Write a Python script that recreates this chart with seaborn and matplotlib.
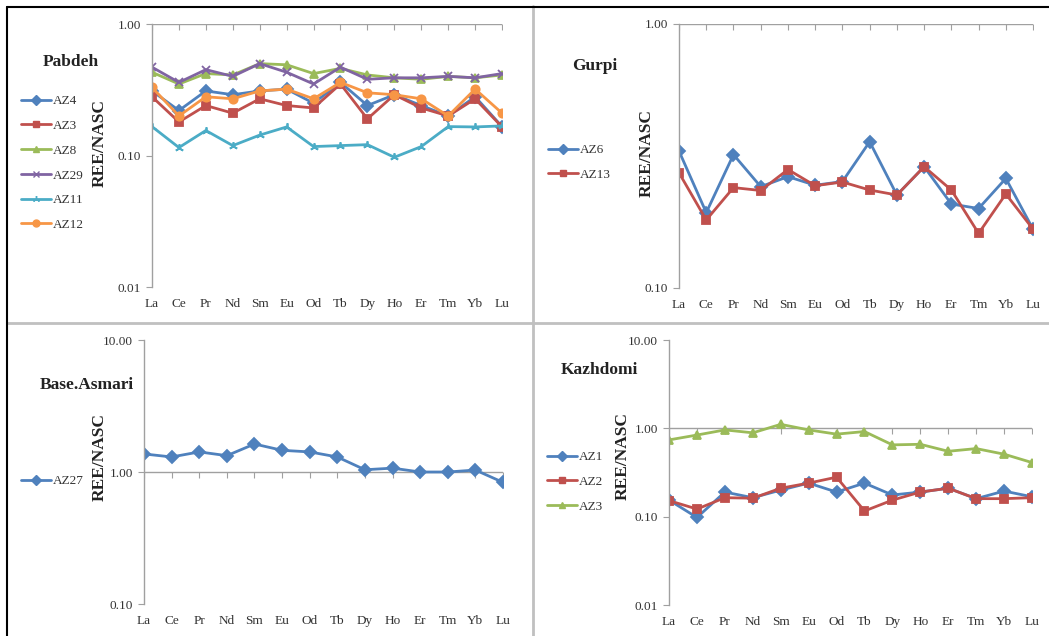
import numpy as np
import pandas as pd
import matplotlib
matplotlib.use("Agg")
import matplotlib.pyplot as plt
import seaborn as sns
from matplotlib.lines import Line2D
from matplotlib.ticker import FixedLocator, FuncFormatter, NullLocator

sns.set_style("white")
plt.rcParams["font.family"] = ["Liberation Serif", "DejaVu Serif"]

elements = ["La", "Ce", "Pr", "Nd", "Sm", "Eu", "Gd", "Tb", "Dy", "Ho", "Er", "Tm", "Yb", "Lu"]
x_labels = ["La", "Ce", "Pr", "Nd", "Sm", "Eu", "Od", "Tb", "Dy", "Ho", "Er", "Tm", "Yb", "Lu"]

# Pabdeh
az4 = [0.31, 0.22, 0.31, 0.29, 0.31, 0.32, 0.25, 0.36, 0.24, 0.29, 0.24, 0.20, 0.28, 0.166]
az3_p = [0.28, 0.18, 0.24, 0.21, 0.27, 0.24, 0.23, 0.35, 0.19, 0.29, 0.23, 0.20, 0.27, 0.165]
az8 = [0.43, 0.35, 0.42, 0.41, 0.50, 0.49, 0.42, 0.46, 0.41, 0.39, 0.38, 0.40, 0.39, 0.41]
az29 = [0.47, 0.36, 0.45, 0.40, 0.50, 0.43, 0.35, 0.47, 0.38, 0.39, 0.39, 0.40, 0.39, 0.42]
az11 = [0.166, 0.115, 0.155, 0.119, 0.143, 0.165, 0.117, 0.119, 0.121, 0.097, 0.117, 0.166, 0.165, 0.168]
az12 = [0.33, 0.20, 0.28, 0.27, 0.31, 0.32, 0.27, 0.36, 0.30, 0.29, 0.27, 0.20, 0.32, 0.21]

# Gurpi
az6 = [0.33, 0.193, 0.32, 0.242, 0.264, 0.245, 0.253, 0.358, 0.225, 0.288, 0.208, 0.20, 0.26, 0.167]
az13 = [0.273, 0.181, 0.24, 0.234, 0.281, 0.244, 0.252, 0.235, 0.225, 0.288, 0.235, 0.161, 0.227, 0.167]

# Base.Asmari
az27 = [1.37, 1.30, 1.42, 1.33, 1.63, 1.46, 1.42, 1.30, 1.04, 1.07, 1.00, 1.00, 1.035, 0.835]

# Kazhdomi
az1 = [0.154, 0.098, 0.19, 0.164, 0.20, 0.24, 0.19, 0.24, 0.176, 0.19, 0.21, 0.16, 0.195, 0.168]
az2 = [0.152, 0.122, 0.164, 0.162, 0.21, 0.24, 0.28, 0.116, 0.154, 0.19, 0.21, 0.16, 0.16, 0.164]
az3_k = [0.74, 0.84, 0.96, 0.89, 1.11, 0.96, 0.86, 0.92, 0.65, 0.66, 0.55, 0.59, 0.51, 0.41]

blue = "#4F81BD"
red = "#C0504D"
green = "#9BBB59"
purple = "#8064A2"
aqua = "#4BACC6"
orange = "#F79646"
star = (3, 2, 0)

W, H = 1049, 636

panels = [
    dict(title="Pabdeh", series={"AZ4": az4, "AZ3": az3_p, "AZ8": az8, "AZ29": az29, "AZ11": az11, "AZ12": az12},
         colors=[blue, red, green, purple, aqua, orange], markers=["D", "s", "^", "x", star, "o"],
         ylim=(0.01, 1.0), yticks=[0.01, 0.1, 1.0],
         rect=[0.1449, 0.5487, 0.3337, 0.4135], title_xy=(0.067, 0.902),
         leg_xy=(21 / W, 1 - 95 / H), ylab=(-0.149, 0.548)),
    dict(title="Gurpi", series={"AZ6": az6, "AZ13": az13},
         colors=[blue, red], markers=["D", "s"],
         ylim=(0.1, 1.0), yticks=[0.1, 1.0],
         rect=[0.6473, 0.5472, 0.3375, 0.4151], title_xy=(0.567, 0.896),
         leg_xy=(548 / W, 1 - 144 / H), ylab=(-0.090, 0.51)),
    dict(title="Base.Asmari", series={"AZ27": az27},
         colors=[blue], markers=["D"],
         ylim=(0.1, 10.0), yticks=[0.1, 1.0, 10.0],
         rect=[0.1373, 0.0503, 0.3422, 0.4151], title_xy=(0.083, 0.395),
         leg_xy=(21 / W, 1 - 475 / H), ylab=(-0.123, 0.557)),
    dict(title="Kazhdomi", series={"AZ1": az1, "AZ2": az2, "AZ3": az3_k},
         colors=[blue, red, green], markers=["D", "s", "^"],
         ylim=(0.01, 10.0), yticks=[0.01, 0.1, 1.0, 10.0],
         rect=[0.6378, 0.0487, 0.3460, 0.4167], title_xy=(0.571, 0.418),
         leg_xy=(547 / W, 1 - 451 / H), ylab=(-0.129, 0.562)),
]

fig = plt.figure(figsize=(W / 100, H / 100), dpi=100)

for p in panels:
    ax = fig.add_axes(p["rect"])
    names = list(p["series"].keys())
    for name, c, m in zip(names, p["colors"], p["markers"]):
        df = pd.DataFrame({"element": elements, "value": p["series"][name]})
        sns.lineplot(data=df, x="element", y="value", color=c, marker=m,
                     sort=False, linewidth=2.0, markersize=6, markeredgewidth=1.3,
                     markeredgecolor=c, markerfacecolor=c, ax=ax, legend=False)

    ax.set_yscale("log")
    ax.set_ylim(*p["ylim"])
    ax.set_xlim(0, 13)
    ax.yaxis.set_major_locator(FixedLocator(p["yticks"]))
    ax.yaxis.set_minor_locator(NullLocator())
    ax.yaxis.set_major_formatter(FuncFormatter(lambda v, pos: f"{v:.2f}"))
    ax.set_xticks(range(len(elements)))
    ax.set_xticklabels(x_labels)
    ax.tick_params(axis="x", length=0, labelsize=9.5, pad=8, labelcolor="#333333")
    ax.tick_params(axis="y", length=4, width=0.8, color="#a0a0a0", labelsize=9.5,
                   labelcolor="#333333", left=True, direction="out", pad=4)
    for s in ["top", "right", "bottom"]:
        ax.spines[s].set_visible(False)
    ax.spines["left"].set_color("#a0a0a0")
    ax.spines["left"].set_linewidth(1.0)

    # category axis crosses at 1.00
    ax.axhline(1.0, color="#a0a0a0", lw=1.0, zorder=1)
    ax.plot(range(len(elements)), [1.0] * len(elements), ls="none", marker=3,
            ms=4, mew=0.8, color="#a0a0a0", zorder=1)

    ax.set_xlabel("")
    ax.set_ylabel("")
    ax.text(p["ylab"][0], p["ylab"][1], "REE/NASC", transform=ax.transAxes,
            rotation=90, ha="center", va="center", fontsize=12.5, fontweight="bold",
            color="#222222")

    fig.text(p["title_xy"][0], p["title_xy"][1], p["title"], fontsize=12.5,
             fontweight="bold", ha="center", va="center", color="#222222")

    handles = [Line2D([0], [0], color=c, marker=m, lw=2.0, ms=5, mec=c, mfc=c)
               for c, m in zip(p["colors"], p["markers"])]
    fig.legend(handles, names, loc="upper left", bbox_to_anchor=p["leg_xy"],
               frameon=False, fontsize=9.5, handlelength=2.3, handletextpad=0.15,
               labelspacing=0.95, borderpad=0, borderaxespad=0, labelcolor="#333333")

# panel borders
grey = "#c0c0c0"
fig.add_artist(Line2D([533 / W, 533 / W], [0, 1 - 6 / H], transform=fig.transFigure, color=grey, lw=2))
fig.add_artist(Line2D([7 / W, 1], [1 - 323 / H, 1 - 323 / H], transform=fig.transFigure, color=grey, lw=2))
fig.add_artist(Line2D([7 / W, 1], [1 - 6.5 / H, 1 - 6.5 / H], transform=fig.transFigure, color="black", lw=1.5))
fig.add_artist(Line2D([7 / W, 7 / W], [0, 1 - 6.5 / H], transform=fig.transFigure, color="black", lw=1.5))

fig.savefig("out.png", dpi=100)
